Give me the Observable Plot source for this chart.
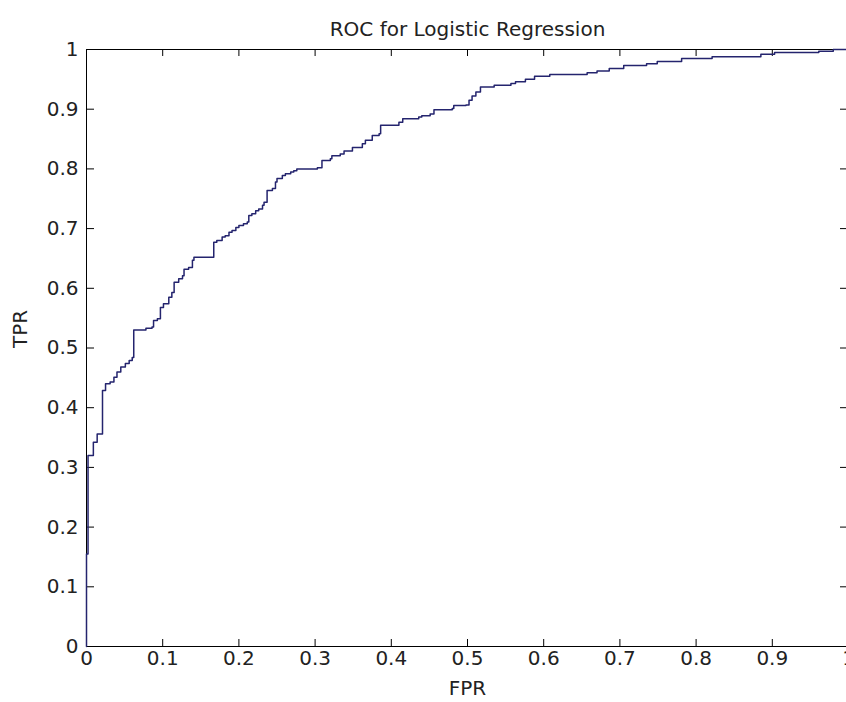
<!DOCTYPE html>
<html>
<head>
<meta charset="utf-8">
<script src="https://cdn.jsdelivr.net/npm/d3@7"></script>
<script src="https://cdn.jsdelivr.net/npm/@observablehq/plot@0.6"></script>
<style>
  html, body { margin: 0; padding: 0; background: #fff; overflow: hidden; }
  #chart { width: 846px; height: 702px; overflow: hidden; }
</style>
</head>
<body>
<div id="chart"></div>
<script>
// ROC curve vertices: at each false positive rate the true positive rate steps up to the given value
const fpr = [0, 0, 0.002, 0.009, 0.014, 0.021, 0.025, 0.031, 0.036, 0.040, 0.045, 0.051, 0.056, 0.060,
  0.062, 0.078, 0.086, 0.088, 0.093, 0.097, 0.101, 0.108, 0.112, 0.115, 0.121, 0.126, 0.128, 0.134,
  0.139, 0.141, 0.167, 0.171, 0.178, 0.182, 0.187, 0.191, 0.196, 0.200, 0.206, 0.211, 0.213, 0.217,
  0.222, 0.226, 0.231, 0.233, 0.237, 0.244, 0.248, 0.250, 0.257, 0.261, 0.268, 0.272, 0.276, 0.303,
  0.309, 0.320, 0.322, 0.333, 0.338, 0.349, 0.362, 0.366, 0.375, 0.384, 0.386, 0.410, 0.415, 0.436,
  0.440, 0.451, 0.456, 0.480, 0.482, 0.498, 0.502, 0.506, 0.511, 0.517, 0.535, 0.557, 0.563, 0.576,
  0.588, 0.608, 0.657, 0.670, 0.686, 0.705, 0.735, 0.749, 0.781, 0.821, 0.885, 0.903, 0.961, 0.980, 1.0];
const tpr = [0, 0.155, 0.320, 0.342, 0.356, 0.429, 0.440, 0.443, 0.451, 0.460, 0.468, 0.474, 0.479, 0.484,
  0.530, 0.533, 0.535, 0.546, 0.549, 0.568, 0.574, 0.585, 0.593, 0.610, 0.616, 0.621, 0.632, 0.635,
  0.647, 0.652, 0.677, 0.680, 0.686, 0.688, 0.694, 0.697, 0.702, 0.705, 0.708, 0.711, 0.722, 0.725,
  0.730, 0.733, 0.739, 0.744, 0.764, 0.767, 0.778, 0.784, 0.789, 0.792, 0.795, 0.797, 0.800, 0.802,
  0.814, 0.817, 0.822, 0.825, 0.830, 0.836, 0.842, 0.848, 0.856, 0.859, 0.873, 0.878, 0.884, 0.887,
  0.889, 0.892, 0.899, 0.901, 0.906, 0.907, 0.915, 0.922, 0.929, 0.937, 0.940, 0.943, 0.946, 0.950,
  0.955, 0.958, 0.961, 0.964, 0.968, 0.973, 0.976, 0.980, 0.985, 0.988, 0.992, 0.995, 0.997, 1.0, 1.0];

const xTicks = [0, 0.1, 0.2, 0.3, 0.4, 0.5, 0.6, 0.7, 0.8, 0.9, 1];
const xTickLabels = ["0", "0.1", "0.2", "0.3", "0.4", "0.5", "0.6", "0.7", "0.8", "0.9", "1"];
const yTicks = [0, 0.1, 0.2, 0.3, 0.4, 0.5, 0.6, 0.7, 0.8, 0.9, 1];
const yTickLabels = ["0", "0.1", "0.2", "0.3", "0.4", "0.5", "0.6", "0.7", "0.8", "0.9", "1"];

const titleText = "ROC for Logistic Regression";
const xLabel = "FPR";
const yLabel = "TPR";

const roc = fpr.map((f, i) => ({fpr: f, tpr: tpr[i]}));

// Axes box geometry (the right edge of the box sits just past the visible area)
const W = 848, H = 702;
const mLeft = 86, mTop = 49, mBottom = 56, mRight = 0;
const innerW = W - mLeft - mRight;
const innerH = H - mTop - mBottom;
const tickX = 7, tickY = 8;
const font = "'DejaVu Sans', Verdana, sans-serif";

const chart = Plot.plot({
  width: W,
  height: H,
  marginLeft: mLeft,
  marginTop: mTop,
  marginBottom: mBottom,
  marginRight: mRight,
  x: {domain: [0, 1], axis: null},
  y: {domain: [0, 1], axis: null},
  style: {fontFamily: font, fontSize: "20px", color: "#000", background: "#fff", maxWidth: "none", overflow: "hidden"},
  marks: [
    // box lines
    Plot.ruleY([0, 1], {x1: 0, x2: 1, stroke: "#000", strokeWidth: 1}),
    Plot.ruleX([0, 1], {y1: 0, y2: 1, stroke: "#000", strokeWidth: 1}),
    // inward tick marks on all four sides
    Plot.ruleX(xTicks, {x: d => d, insetTop: innerH - tickX, stroke: "#000"}),
    Plot.ruleX(xTicks, {x: d => d, insetBottom: innerH - tickX, stroke: "#000"}),
    Plot.ruleY(yTicks, {y: d => d, insetRight: innerW - tickY, stroke: "#000"}),
    Plot.ruleY(yTicks, {y: d => d, insetLeft: innerW - tickY, stroke: "#000"}),
    // tick labels
    Plot.text(xTicks, {x: d => d, text: (d, i) => xTickLabels[i], frameAnchor: "bottom", dy: 18, fill: "#222"}),
    Plot.text(yTicks, {y: d => d, text: (d, i) => yTickLabels[i], frameAnchor: "left", dx: -8, textAnchor: "end", fill: "#222"}),
    // ROC staircase
    Plot.line(roc, {x: "fpr", y: "tpr", curve: "step-after", stroke: "#24246e", strokeWidth: 1.5}),
    // title and axis labels
    Plot.text([titleText], {frameAnchor: "top", dy: -28, fill: "#222"}),
    Plot.text([xLabel], {frameAnchor: "bottom", dy: 48, fill: "#222"}),
    Plot.text([yLabel], {frameAnchor: "left", dx: -66, rotate: -90, fill: "#222"})
  ]
});

document.getElementById("chart").appendChild(chart);
</script>
</body>
</html>
